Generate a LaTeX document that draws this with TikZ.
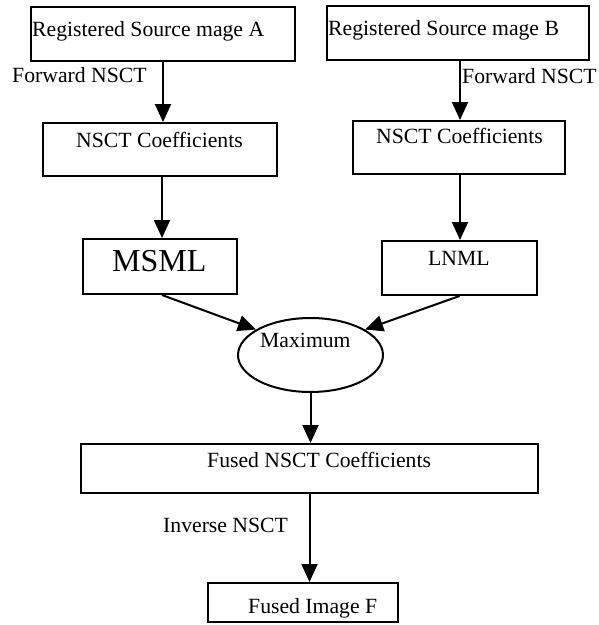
\documentclass[tikz,border=0pt]{standalone}
\usepackage{fontspec}
\setmainfont{Liberation Serif}
\usetikzlibrary{arrows.meta,shapes.geometric}
\begin{document}
\begin{tikzpicture}[x=1pt,y=-1pt,
  box/.style={draw,line width=2pt,inner sep=0pt,rectangle},
  oval/.style={draw,line width=2pt,inner sep=0pt,ellipse},
  lbl/.style={inner sep=0pt,anchor=base west,font=\fontsize{21.7}{26}\selectfont},
  big/.style={inner sep=0pt,anchor=base west,font=\fontsize{32}{38}\selectfont},
  arr/.style={line width=2pt,-{Triangle[length=18pt,width=16pt]}}]
\useasboundingbox (0,0) rectangle (599,625);
% boxes
\node[box,minimum width=264pt,minimum height=54pt] (a) at (163,34) {};
\node[box,minimum width=262pt,minimum height=54pt] (b) at (458,33) {};
\node[box,minimum width=234pt,minimum height=53pt] (ca) at (160,149.5) {};
\node[box,minimum width=212pt,minimum height=53pt] (cb) at (459,147.5) {};
\node[box,minimum width=154pt,minimum height=55pt] (ms) at (160,266.5) {};
\node[box,minimum width=155pt,minimum height=54pt] (ln) at (459.5,268) {};
\node[oval,minimum width=145pt,minimum height=74pt] (mx) at (310.5,355) {};
\node[box,minimum width=457pt,minimum height=49pt] (fu) at (309.5,468.5) {};
\node[box,minimum width=190pt,minimum height=39pt] (fi) at (303,602.5) {};
% texts
\node[lbl] (ta) at (32,36) {Registered Source mage A};
\node[lbl] (tb) at (328,35) {Registered Source mage B};
\node[lbl] (fa) at (12,82) {Forward NSCT};
\node[lbl] (fb) at (462,83) {Forward NSCT};
\node[lbl] (tca) at (76,147) {NSCT Coefficients};
\node[lbl] (tcb) at (376,143) {NSCT Coefficients};
\node[big] (tms) at (112,271) {MSML};
\node[lbl] (tln) at (428,265) {LNML};
\node[lbl] (tmx) at (260,347) {Maximum};
\node[lbl] (tfu) at (207,467) {Fused NSCT Coefficients};
\node[lbl] (tin) at (163,532) {Inverse NSCT};
\node[lbl] (tfi) at (248,613) {Fused Image F};
% connectors
\draw[arr] (a.south) -- (a.south |- ca.north);
\draw[arr] ([xshift=2pt]b.south) -- ([xshift=2pt]b.south |- cb.north);
\draw[arr] ([xshift=2pt]ca.south) -- ([xshift=2pt]ca.south |- ms.north);
\draw[arr] ([xshift=1pt]cb.south) -- ([xshift=1pt]cb.south |- ln.north);
\draw[arr] ([xshift=2pt]ms.south) -- (mx.155);
\draw[arr] (ln.south) -- (mx.25);
\draw[arr] (mx.south) -- (mx.south |- fu.north);
\draw[arr] (fu.south) -- (fu.south |- fi.north);
\end{tikzpicture}
\end{document}
